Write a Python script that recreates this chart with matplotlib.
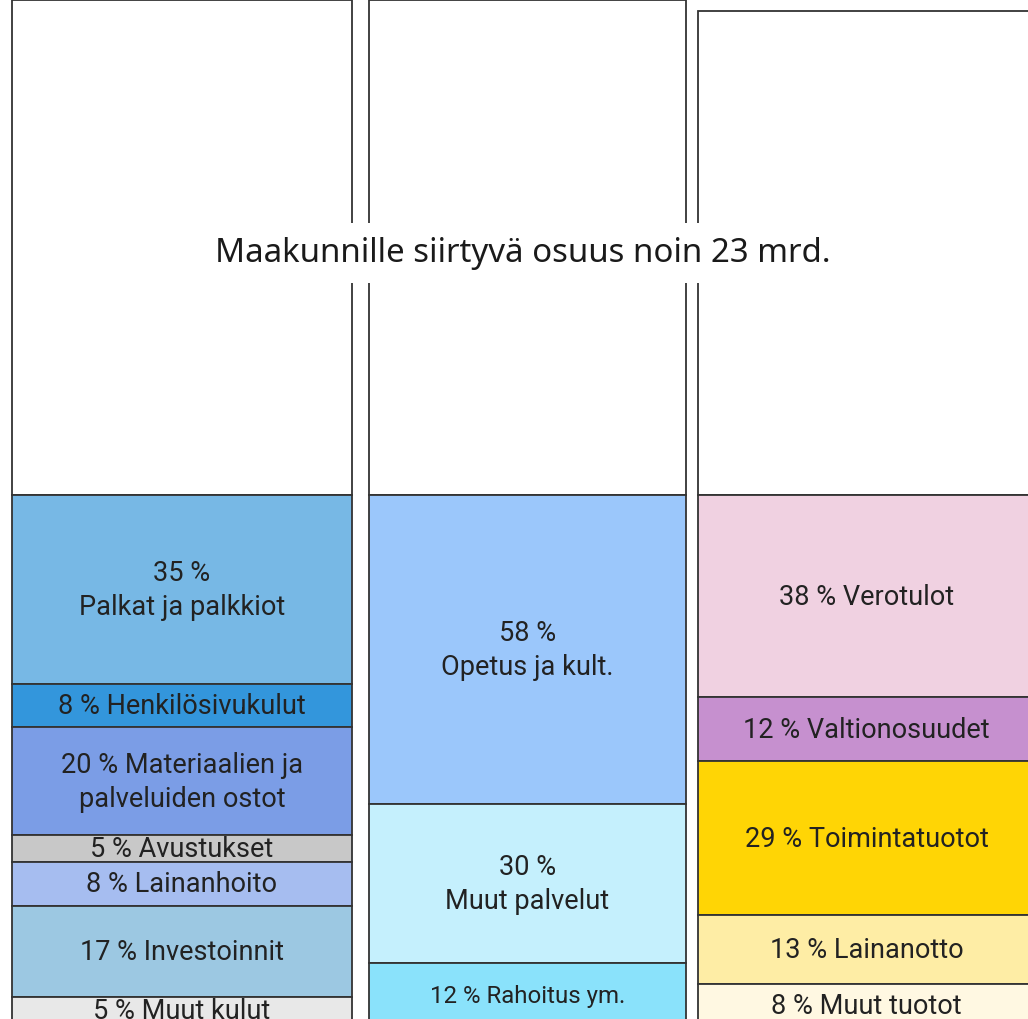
import matplotlib
matplotlib.use("Agg")
import matplotlib.pyplot as plt

# kulut (menot)
kulut_pct = [35, 8, 20, 5, 8, 17, 5]
kulut_lbl = ["35 %\nPalkat ja palkkiot", "8 % Henkilösivukulut",
             "20 % Materiaalien ja\npalveluiden ostot", "5 % Avustukset",
             "8 % Lainanhoito", "17 % Investoinnit", "5 % Muut kulut"]
kulut_col = ["#77b8e5", "#3396dc", "#7b9de6", "#c8c8c8", "#a6bdf0", "#9cc8e2", "#e8e8e8"]

# palvelut
palv_pct = [58, 30, 12]
palv_lbl = ["58 %\nOpetus ja kult.", "30 %\nMuut palvelut", "12 % Rahoitus ym."]
palv_col = ["#9bc7fb", "#c5f0fd", "#8ae2fb"]

# tulot
tulot_pct = [38, 12, 29, 13, 8]
tulot_lbl = ["38 % Verotulot", "12 % Valtionosuudet", "29 % Toimintatuotot",
             "13 % Lainanotto", "8 % Muut tuotot"]
tulot_col = ["#f0d1e1", "#c690cf", "#ffd505", "#feeda5", "#fff8e2"]

# valkoinen yläosa (muu osuus), samassa mittakaavassa
muu_osuus = [93, 93, 91]
otsikko = "Maakunnille siirtyvä osuus noin 23 mrd."

W, H = 1028, 1020
k = 5.32          # px per prosenttiyksikkö
y0 = 496          # värillisen osan yläreuna (px)

fig = plt.figure(figsize=(W / 100, H / 100), dpi=100)
ax = fig.add_axes([0, 0, 1, 1])
ax.set_xlim(0, W)
ax.set_ylim((H - y0) / k, -y0 / k)
ax.axis("off")

sarakkeet = [
    (12, 340, kulut_pct, kulut_lbl, kulut_col),
    (369, 317, palv_pct, palv_lbl, palv_col),
    (698, 337, tulot_pct, tulot_lbl, tulot_col),
]

for i, (x, w, pct, lbl, col) in enumerate(sarakkeet):
    # valkoinen laatikko
    ax.bar(x, muu_osuus[i], bottom=-muu_osuus[i], width=w, align="edge",
           color="white", edgecolor="#333333", linewidth=1.3)
    # pyöristetyt prosentit eivät aina summaudu sataan -> venytetään pinoa
    skaala = 99.5 / sum(pct) if sum(pct) < 99 else 1.0
    pohja = 0
    for p, l, c in zip(pct, lbl, col):
        h = p * skaala
        ax.bar(x, h, bottom=pohja, width=w, align="edge",
               color=c, edgecolor="#333333", linewidth=1.3)
        koko = 17.3 if l.startswith("12 % Rahoitus") else 19.5
        ax.text(x + w / 2, pohja + h / 2, l, ha="center", va="center",
                fontsize=koko, family="Roboto", color="#222222",
                linespacing=1.32)
        pohja += h

ax.text(523 / W, 1 - 254 / H, otsikko, transform=ax.transAxes,
        ha="center", va="center", fontsize=23.8, family="Noto Sans",
        color="#1a1a1a",
        bbox=dict(boxstyle="square,pad=0.4", facecolor="white", edgecolor="none"))

fig.savefig("out.png", dpi=100)
